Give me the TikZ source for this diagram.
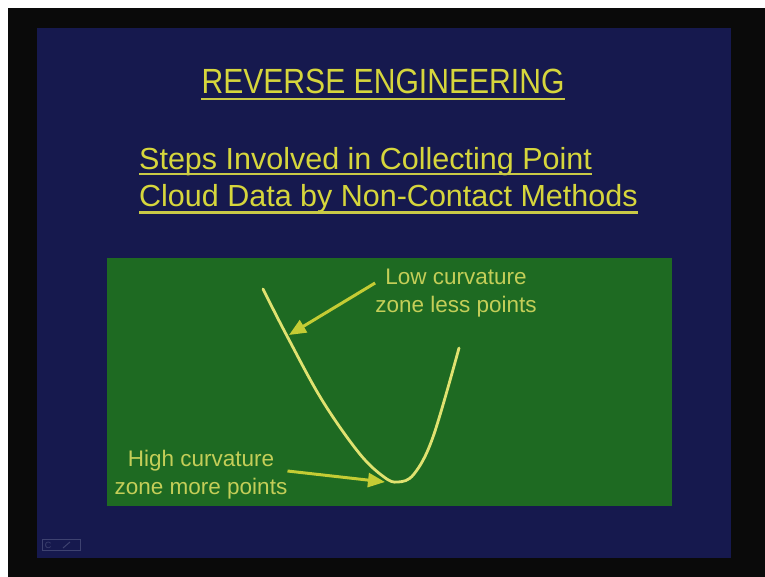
\documentclass[tikz,border=0pt]{standalone}
\usepackage{fontspec}
\setmainfont{Liberation Sans}
\usetikzlibrary{arrows.meta,positioning}
\definecolor{slideblue}{RGB}{22,25,78}
\definecolor{boxgreen}{RGB}{30,106,34}
\definecolor{titleyellow}{RGB}{214,214,60}
\definecolor{labelyellow}{RGB}{196,206,88}
\definecolor{curveyellow}{RGB}{224,226,112}
\definecolor{arrowyellow}{RGB}{196,204,52}
\definecolor{logogray}{RGB}{62,66,112}

\begin{document}
\begin{tikzpicture}[x=1pt,y=-1pt,
    heading/.style={inner sep=0pt,anchor=base west,text=titleyellow,font=\fontsize{30.5}{37}\selectfont},
    uline/.style={titleyellow!85!gray,line width=2.5pt},
    zonelabel/.style={inner sep=0pt,align=center,text=labelyellow,font=\fontsize{22.5}{28}\selectfont},
    pointer/.style={arrowyellow,line width=3pt,-{Triangle[length=17pt,width=14pt]}}]
    \useasboundingbox (0,0) rectangle (765,577);

    % Screen and slide
    \fill[white] (0,0) rectangle (765,577);
    \fill[black!96] (8,8) rectangle (765,577);
    \fill[slideblue] (37,28) rectangle (731,558);
    \fill[boxgreen] (107,258) rectangle (672,506);

    % Headings
    \node[heading,anchor=base,font=\fontsize{35}{40}\selectfont] (title) at (383,94) {\scalebox{0.86}[1]{REVERSE ENGINEERING}};
    \draw[uline] ([yshift=-5pt]title.base west) -- ([yshift=-5pt]title.base east);
    \node[heading] (stepsA) at (139,169.5) {Steps Involved in Collecting Point};
    \draw[uline] ([yshift=-4.5pt]stepsA.base west) -- ([yshift=-4.5pt]stepsA.base east);
    \node[heading] (stepsB) at (139,207) {Cloud Data by Non-Contact Methods};
    \draw[uline] ([yshift=-5.5pt]stepsB.base west) -- ([yshift=-5.5pt]stepsB.base east);

    % Profile curve
    \draw[curveyellow,line width=2.8pt,line cap=round]
        plot[smooth,tension=0.6] coordinates {(263,289) (287,336) (322,400) (359,453) (384,477) (398,482) (414,474) (433,437) (459,348)};
    \coordinate (lowtip) at (289,335);
    \coordinate (hightip) at (385,482);

    % Zone labels
    \node[zonelabel] (lowlbl) at (456,293) {Low curvature\\zone less points};
    \node[zonelabel] (highlbl) at (201,475) {High curvature\\zone more points};
    \draw[pointer] ([yshift=10pt]lowlbl.west) -- (lowtip);
    \draw[pointer] ([yshift=4pt]highlbl.east) -- (hightip);

    % Logo
    \draw[logogray,line width=1pt] (42,539) rectangle (80,550);
    \node[logogray,inner sep=0pt,font=\fontsize{9}{9}\selectfont] (logoC) at (48,545) {C};
    \draw[logogray,line width=1pt] (63,548) -- (70,542);
\end{tikzpicture}
\end{document}
